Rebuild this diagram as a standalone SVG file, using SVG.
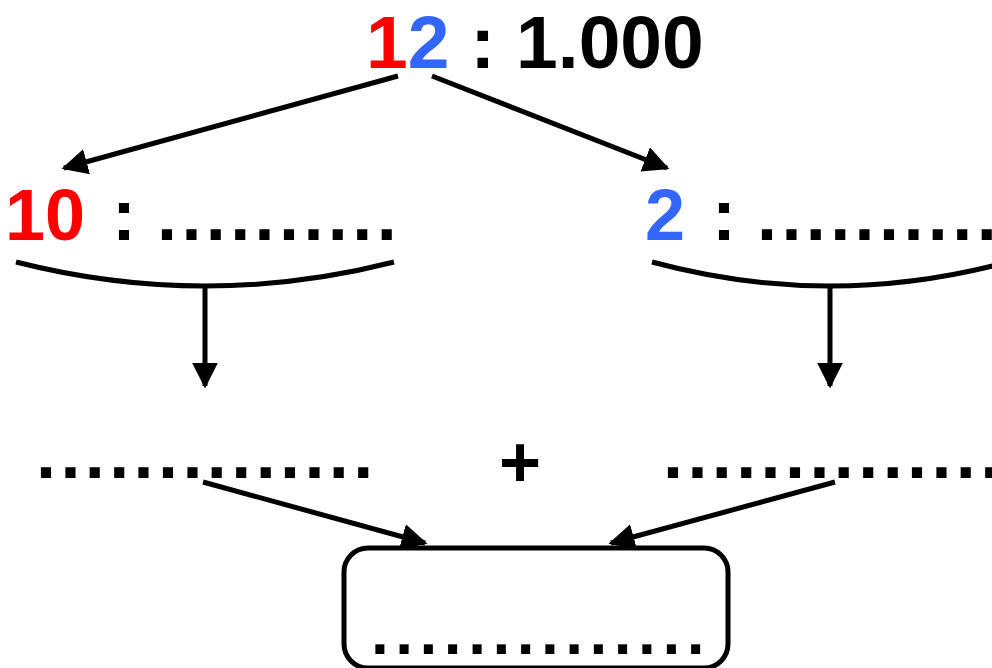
<svg xmlns="http://www.w3.org/2000/svg" width="992" height="668" viewBox="0 0 992 668">
<style>
text{font-family:"Liberation Sans",Arial,sans-serif;font-weight:bold;font-size:72px;fill:#000}
.big{font-size:75px}
.red{fill:#ff0000}
.blue{fill:#3366ff}
.dots{letter-spacing:4.4px}
.bdots{font-size:64px;letter-spacing:6.5px}
.ln{stroke:#000;stroke-width:5;fill:none}
</style>
<defs>
<marker id="ah" viewBox="0 0 10 10" refX="9" refY="5" markerWidth="5.2" markerHeight="5.2" orient="auto" markerUnits="strokeWidth">
<path d="M0,0 L10,5 L0,10 z" fill="#000"/>
</marker>
</defs>
<rect width="992" height="668" fill="#fff"/>
<g id="top">
<text x="366" y="68" class="big"><tspan class="red">1</tspan><tspan class="blue">2</tspan> : 1.000</text>
</g>
<g id="left">
<text x="5" y="240" class="red">10</text>
<text x="112" y="240">:</text>
<text x="157" y="240" class="dots">..........</text>
<path class="ln" d="M16,262 Q205,310 394,262"/>
</g>
<g id="right">
<text x="645" y="240" class="blue">2</text>
<text x="712" y="240">:</text>
<text x="757" y="240" class="dots">..........</text>
<path class="ln" d="M652,262 Q830,310 1008,262"/>
</g>
<g id="sum">
<text x="36" y="478" class="dots">..............</text>
<text x="520" y="487" text-anchor="middle">+</text>
<text x="663" y="478" class="dots">..............</text>
</g>
<g id="result">
<rect x="344" y="548" width="384" height="120" rx="24" ry="24" class="ln"/>
<text x="371" y="654" class="bdots">..............</text>
</g>
<g id="connectors">
<line class="ln" x1="398" y1="76" x2="64" y2="168" marker-end="url(#ah)"/>
<line class="ln" x1="432" y1="76" x2="667" y2="168" marker-end="url(#ah)"/>
<line class="ln" x1="205" y1="284" x2="205" y2="386" marker-end="url(#ah)"/>
<line class="ln" x1="830" y1="286" x2="830" y2="386" marker-end="url(#ah)"/>
<line class="ln" x1="203" y1="482" x2="425" y2="543" marker-end="url(#ah)"/>
<line class="ln" x1="835" y1="482" x2="611" y2="543" marker-end="url(#ah)"/>
</g>
</svg>
